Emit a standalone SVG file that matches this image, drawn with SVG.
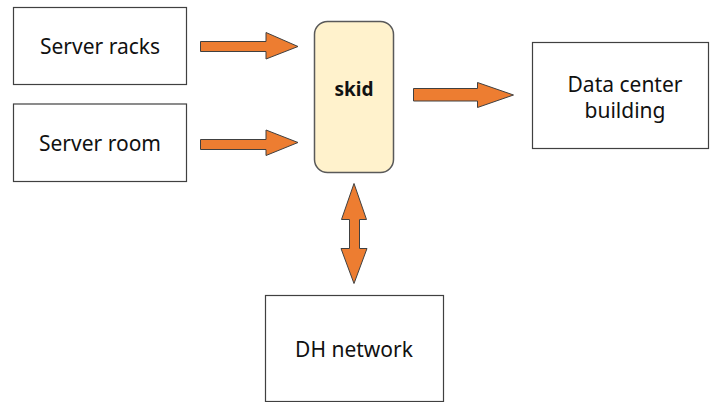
<svg xmlns="http://www.w3.org/2000/svg" width="710" height="402" viewBox="0 0 710 402">
  <style>
    .box { fill: #ffffff; stroke: #404040; stroke-width: 1.2; }
    .skid { fill: #fff2cc; stroke: #595959; stroke-width: 1.5; }
    .lbl { font-family: "Noto Sans", "Open Sans", sans-serif; font-size: 21px; fill: #111111; text-anchor: middle; }
    .bold { font-weight: bold; font-size: 19px; }
    .arrow { fill: #ed7d31; stroke: #404040; stroke-width: 1; stroke-linejoin: miter; }
  </style>
  <rect width="710" height="402" fill="#ffffff"/>

  <g id="server-racks">
    <rect class="box" x="13.5" y="7.5" width="173" height="77"/>
    <text class="lbl" x="100" y="54">Server racks</text>
  </g>

  <g id="server-room">
    <rect class="box" x="13.5" y="104" width="173" height="77.5"/>
    <text class="lbl" x="100" y="151">Server room</text>
  </g>

  <g id="skid">
    <rect class="skid" x="314.5" y="21.5" width="79" height="151" rx="13" ry="13"/>
    <text class="lbl bold" x="354" y="96">skid</text>
  </g>

  <g id="data-center">
    <rect class="box" x="532.5" y="42.5" width="176" height="106"/>
    <text class="lbl" x="625" y="92">Data center</text>
    <text class="lbl" x="625" y="118">building</text>
  </g>

  <g id="dh-network">
    <rect class="box" x="265.5" y="295.5" width="178" height="106"/>
    <text class="lbl" x="354" y="357">DH network</text>
  </g>

  <g id="connectors">
    <!-- server racks -> skid -->
    <polygon class="arrow" points="200.5,41.5 266,41.5 266,32.5 298,46.5 266,59 266,51.5 200.5,51.5"/>
    <!-- server room -> skid -->
    <polygon class="arrow" points="200.5,139.5 266,139.5 266,130 298,142.5 266,155.5 266,149.5 200.5,149.5"/>
    <!-- skid -> data center -->
    <polygon class="arrow" points="413.5,88.5 477.5,88.5 477.5,82.5 513.5,95 477.5,107.5 477.5,101 413.5,101"/>
    <!-- skid <-> DH network -->
    <polygon class="arrow" points="354,183.5 366.5,219.5 359.5,219.5 359.5,248.5 367,248.5 354,283.5 341,248.5 349.5,248.5 349.5,219.5 341.5,219.5"/>
  </g>
</svg>
